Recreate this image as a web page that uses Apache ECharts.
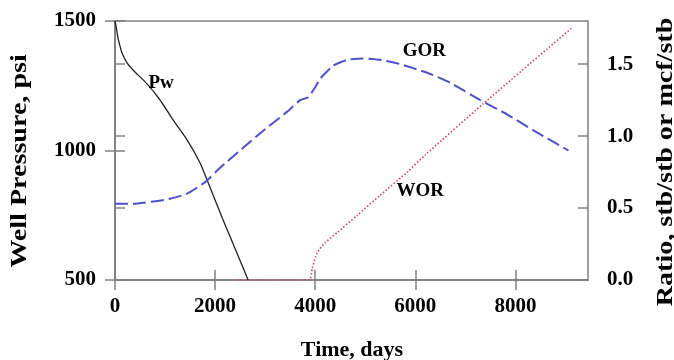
<!DOCTYPE html>
<html><head><meta charset="utf-8">
<script src="https://cdn.jsdelivr.net/npm/echarts@6/dist/echarts.min.js"></script>
<style>html,body{margin:0;padding:0;background:#fff}#c{width:674px;height:360px}</style>
</head><body><div id="c"></div>
<script>
// ---- data ----
const pwDays = [0,20,40,60,100,140,240,360,640,900,1160,1440,1700,1840,2160,2660];
const pwPsi  = [1500,1481,1458,1434,1403,1376,1338,1311,1257,1195,1118,1041,952,886,732,500];

const gorDays  = [0,360,1040,1440,1800,2100,2500,2900,3440,3700,3860,4000,4100,4360,4640,4960,5300,5700,6240,6700,7300,7840,8360,9060];
const gorRatio = [0.53,0.53,0.56,0.60,0.68,0.78,0.90,1.02,1.17,1.25,1.27,1.34,1.40,1.49,1.53,1.54,1.53,1.50,1.44,1.37,1.25,1.15,1.04,0.90];

const worDays  = [2460,3880,3940,4040,4200,4440,4840,5300,5840,6200,7340,9120];
const worRatio = [0,0,0.08,0.19,0.26,0.33,0.45,0.59,0.75,0.87,1.22,1.75];

const xTicks = [0,2000,4000,6000,8000];
const leftTicks = [500,1000,1500];
const rightTicks = [0,0.5,1.0,1.5];

// annotation labels: [day, ratio, text]
const notes = [[920,1.37,'Pw'],[6180,1.59,'GOR'],[6100,0.615,'WOR']];

const xTitle = 'Time, days';
const leftTitle = 'Well Pressure, psi';
const rightTitle = 'Ratio, stb/stb or mcf/stb';

// ---- chart ----
const FONT = '"Liberation Serif","Times New Roman",serif';
const AX = '#808080';
const zip = (a,b)=>a.map((v,i)=>[v,b[i]]);
const lbl = {color:'#000',fontFamily:FONT,fontWeight:'bold',fontSize:21};

const chart = echarts.init(document.getElementById('c'), null, {renderer:'canvas'});
const baseX = {type:'value',min:0,max:9450,position:'bottom'};
const baseL = {type:'value',min:500,max:1500,position:'left'};
const baseR = {type:'value',min:0,max:1.8,position:'right'};
const titles = [
  {type:'text',x:352,y:350,style:{text:xTitle,font:'bold 22px '+FONT,fill:'#000',align:'center',verticalAlign:'middle'}},
  {type:'text',x:20,y:161,rotation:Math.PI/2,scaleX:1.17,style:{text:leftTitle,font:'bold 24px '+FONT,fill:'#000',align:'center',verticalAlign:'middle'}},
  {type:'text',x:666,y:162,rotation:Math.PI/2,scaleX:1.17,style:{text:rightTitle,font:'bold 24px '+FONT,fill:'#000',align:'center',verticalAlign:'middle'}}
];
chart.setOption({
  animation:false,
  backgroundColor:'#fff',
  grid:{left:115,right:86,top:21,bottom:80,show:true,borderColor:AX,borderWidth:1.5,containLabel:false},
  xAxis:[
    Object.assign({},baseX,{
      axisLine:{lineStyle:{color:AX,width:1.5}},
      axisTick:{length:10,lineStyle:{color:AX,width:1.5},customValues:xTicks},
      axisLabel:Object.assign({margin:16,customValues:xTicks,formatter:v=>String(v)},lbl),
      splitLine:{show:false}
    }),
    Object.assign({},baseX,{
      axisLine:{show:false},
      axisTick:{inside:true,length:10,lineStyle:{color:AX,width:1.5},customValues:xTicks},
      axisLabel:{show:false},splitLine:{show:false}
    })
  ],
  yAxis:[
    Object.assign({},baseL,{
      axisLine:{show:true,lineStyle:{color:AX,width:1.5}},
      axisTick:{show:true,length:10,lineStyle:{color:AX,width:1.5},customValues:leftTicks},
      axisLabel:Object.assign({margin:19,customValues:leftTicks,formatter:v=>String(v)},lbl),
      splitLine:{show:false}
    }),
    Object.assign({},baseR,{
      axisLine:{show:true,lineStyle:{color:AX,width:1.5}},
      axisTick:{show:true,length:10,lineStyle:{color:AX,width:1.5},customValues:rightTicks},
      axisLabel:Object.assign({margin:19,customValues:rightTicks,formatter:v=>v.toFixed(1)},lbl),
      splitLine:{show:false}
    }),
    Object.assign({},baseL,{
      axisLine:{show:false},
      axisTick:{show:true,inside:true,length:10,lineStyle:{color:AX,width:1.5},customValues:leftTicks},
      axisLabel:{show:false},splitLine:{show:false}
    }),
    Object.assign({},baseR,{
      axisLine:{show:false},
      axisTick:{show:true,inside:true,length:10,lineStyle:{color:AX,width:1.5},customValues:rightTicks},
      axisLabel:{show:false},splitLine:{show:false}
    })
  ],
  graphic:titles,
  series:[
    {type:'line',name:'Pw',xAxisIndex:0,yAxisIndex:0,data:zip(pwDays,pwPsi),showSymbol:false,smooth:0.2,
     lineStyle:{color:'#222',width:1.3},z:3},
    {type:'line',name:'GOR',xAxisIndex:0,yAxisIndex:1,data:zip(gorDays,gorRatio),showSymbol:false,smooth:0.15,
     lineStyle:{color:'#5050c8',width:2,type:[13,5]},z:3},
    {type:'line',name:'WOR',xAxisIndex:0,yAxisIndex:1,data:zip(worDays,worRatio),showSymbol:false,smooth:0.2,
     lineStyle:{color:'#d8455c',width:1.6,type:[1.5,2]},z:2}
  ]
});
// annotation text placed via the chart's own axes
const noteGraphics = notes.map(n=>{
  const p = chart.convertToPixel({xAxisIndex:0,yAxisIndex:1},[n[0],n[1]]);
  return {type:'text',x:p[0],y:p[1],z:10,style:{text:n[2],font:'bold 19px '+FONT,fill:'#000',align:'center',verticalAlign:'middle'}};
});
chart.setOption({graphic:titles.concat(noteGraphics)});
</script></body></html>
